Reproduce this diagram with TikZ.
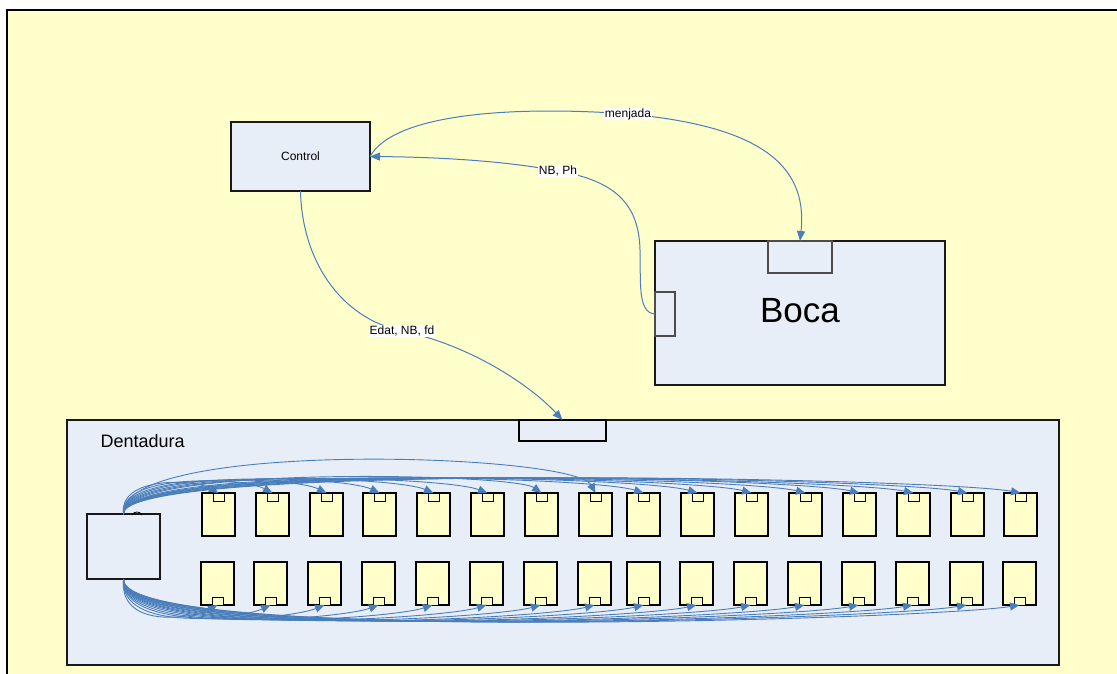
\documentclass[tikz,border=0pt]{standalone}
\usepackage{fontspec}
\setmainfont{Liberation Sans}
\usetikzlibrary{arrows.meta,calc}
\definecolor{bgyellow}{HTML}{FFFFCC}
\definecolor{boxblue}{HTML}{E8EEF8}
\definecolor{connblue}{HTML}{4A7EBB}
\definecolor{toothy}{HTML}{FFFFCC}
\begin{document}
\begin{tikzpicture}[x=1pt,y=-1pt,
 box/.style={draw=black!90, line width=1.3pt, fill=boxblue, inner sep=0pt, outer sep=0pt},
 portbox/.style={draw=black!70, line width=1.1pt, fill=boxblue, inner sep=0pt, outer sep=0pt},
 tooth/.style={draw=black, line width=1.1pt, fill=toothy, minimum width=33pt, minimum height=43pt, inner sep=0pt, outer sep=0pt},
 tport/.style={draw=black, line width=1pt, fill=toothy, minimum width=11pt, minimum height=8pt, inner sep=0pt, outer sep=0pt},
 conn/.style={draw=connblue, line width=1pt, -{Triangle[length=10pt,width=8pt]}},
 tconn/.style={draw=connblue, line width=0.9pt, -{Triangle[length=9.5pt,width=8pt]}},
 lbl/.style={fill=white, inner sep=0.6pt, font=\fontsize{12}{14}\selectfont}
]
\useasboundingbox (0,0) rectangle (1117,673);
\fill[white] (0,0) rectangle (1117,673);
\draw[fill=bgyellow, line width=1.6pt] (7,10) rectangle (1130,690);

% main boxes
\node[box, minimum width=139pt, minimum height=69pt, font=\fontsize{12}{14}\selectfont] (control) at (300.5,156.5) {Control};
\node[box, minimum width=290pt, minimum height=144pt] (boca) at (800,313) {};
\node[font=\fontsize{35}{40}\selectfont] (bocatxt) at (800,311) {Boca};
\node[portbox, minimum width=64pt, minimum height=32pt] (bocatop) at (800,257) {};
\node[portbox, minimum width=20pt, minimum height=44pt] (bocaleft) at (665,314) {};

\node[box, minimum width=992pt, minimum height=245pt] (dent) at (563,542.5) {};
\node[anchor=west, font=\fontsize{18}{20}\selectfont] (denttxt) at (97,441) {Dentadura};
\node[draw=black, line width=1.5pt, fill=boxblue, minimum width=87pt, minimum height=21pt, inner sep=0pt, outer sep=0pt] (dport) at (562.5,430.5) {};
\node[box, minimum width=73pt, minimum height=65pt] (lb) at (123.5,546.5) {};

% teeth top row
\foreach \xl/\ha/\hb/\dd [count=\i] in {202/38/14/24, 256/42/15/28, 310/44/16/32, 363/46/17/36, 417/47/17/40, 471/48/17/44, 525/49/20/28, 579/75/40/22, 627/50/17/52, 681/50/17/56, 735/51/16/60, 789/51/16/64, 843/52/16/68, 897/52/15/72, 951/53/15/76, 1004/53/15/80} {
  \node[tooth, anchor=north west] (t\i) at (\xl,493) {};
  \node[tport, anchor=north] (tp\i) at (t\i.north) {};
  \draw[tconn] (lb.north) .. controls ($(lb.north)+(-5,-\ha)$) and ($(tp\i.north)+(-\dd,-\hb)$) .. (tp\i.north);
}
% teeth bottom row
\foreach \xl/\ha/\hb/\dd [count=\i] in {201/50/14/26, 254/54/14/30, 308/56/14/34, 362/58/14/38, 416/59/14/42, 470/60/14/46, 524/61/14/50, 578/62/14/54, 627/62/14/58, 680/63/14/62, 734/63/14/66, 788/64/14/70, 842/64/14/74, 896/65/14/78, 950/65/14/82, 1003/66/14/86} {
  \node[tooth, anchor=south west] (b\i) at (\xl,605) {};
  \node[tport, anchor=south] (bp\i) at (b\i.south) {};
  \draw[tconn] (lb.south) .. controls ($(lb.south)+(-5,\ha)$) and ($(bp\i.south)+(-\dd,\hb)$) .. (bp\i.south);
}
\draw[black, line width=0.8pt] (132,515) .. controls (134,511) and (140,511) .. (142,515);

% main connectors
\coordinate (m1) at (628,114);
\draw[conn] (control.east) .. controls (395,112) and (520,106) .. (m1) .. controls (760,126) and (808,165) .. (bocatop.north);
\node[lbl] (lm) at (m1) {menjada};

\coordinate (n1) at (558,171);
\coordinate (n2) at (640,250);
\draw[conn] (bocaleft.west) .. controls (637,313) and (641,280) .. (n2) .. controls (639,200) and (610,180) .. (n1) .. controls (500,160) and (430,157) .. (control.east);
\node[lbl] (ln) at (n1) {NB, Ph};

\coordinate (e1) at (402,331);
\draw[conn] (control.south) .. controls (302,260) and (340,318) .. (e1) .. controls (470,345) and (530,385) .. (dport.north);
\node[lbl] (le) at (e1) {Edat, NB, fd};
\end{tikzpicture}
\end{document}
